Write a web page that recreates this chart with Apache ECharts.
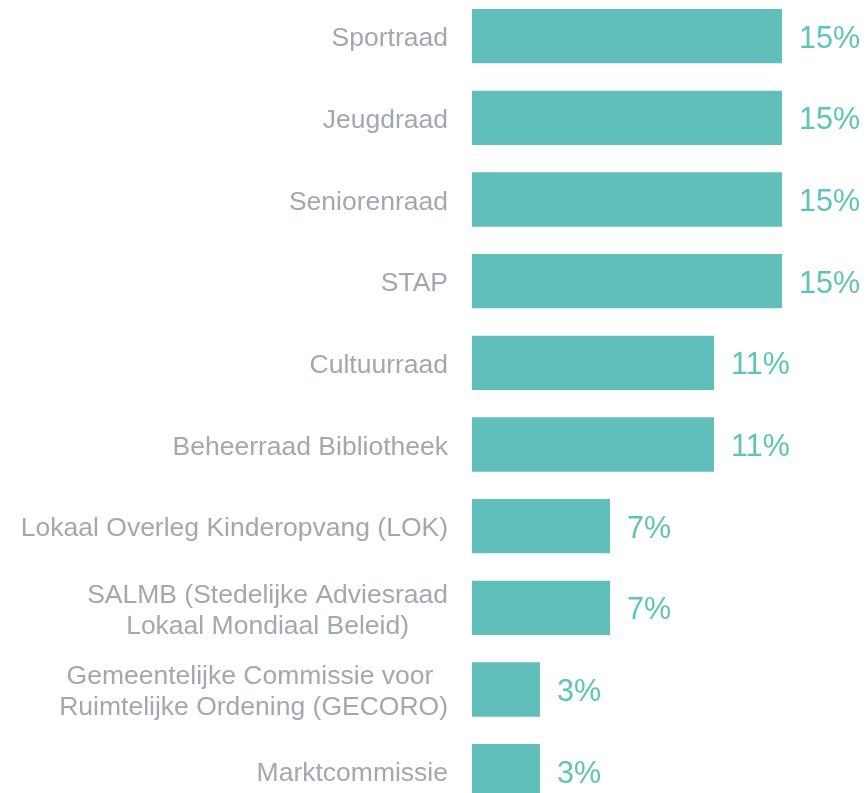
<!DOCTYPE html>
<html>
<head>
<meta charset="utf-8">
<script src="https://cdn.jsdelivr.net/npm/echarts@6/dist/echarts.min.js"></script>
<style>
  html, body { margin: 0; padding: 0; background: #fff; overflow: hidden; }
  #bars { width: 868px; height: 820px; margin-top: -5px; }
</style>
</head>
<body>
<div id="bars"></div>
<script>
var categories = [
    'Sportraad',
    'Jeugdraad',
    'Seniorenraad',
    'STAP',
    'Cultuurraad',
    'Beheerraad Bibliotheek',
    'Lokaal Overleg Kinderopvang (LOK)',
    'SALMB (Stedelijke Adviesraad\nLokaal Mondiaal Beleid)',
    'Gemeentelijke Commissie voor \nRuimtelijke Ordening (GECORO)',
    'Marktcommissie'
];
var shares = [14.6, 14.6, 14.6, 14.6, 11.4, 11.4, 6.5, 6.5, 3.2, 3.2];

// the chart div starts 5px above the window so the first bar sits at y=9
var barChart = echarts.init(document.getElementById('bars'), null, {renderer: 'canvas'});

barChart.setOption({
    animation: false,
    grid: {left: 472, top: 0.3, width: 339.7, height: 816.7},
    xAxis: {
        type: 'value', min: 0, max: 16,
        show: false
    },
    yAxis: {
        type: 'category',
        data: categories,
        inverse: true,
        axisLine: {show: false},
        axisTick: {show: false},
        axisLabel: {
            margin: 24,
            align: 'right',
            padding: [6, 0, 0, 0],
            formatter: function (v) {
                return v.split('\n').map(function (l) { return '{c|' + l + '}'; }).join('\n');
            },
            rich: {
                c: {
                    align: 'center',
                    color: '#a0a8b0',
                    fontSize: 26.5,
                    lineHeight: 31,
                    fontFamily: 'Liberation Sans, Arial, sans-serif'
                }
            }
        }
    },
    series: [{
        type: 'bar',
        data: shares,
        barWidth: 54.3,
        itemStyle: {color: '#60bfba'},
        label: {
            show: true,
            position: 'right',
            distance: 17,
            offset: [0, 3],
            color: '#5ec3b8',
            fontSize: 30.5,
            fontFamily: 'Liberation Sans, Arial, sans-serif',
            formatter: function (p) { return Math.round(p.value) + '%'; }
        }
    }]
});
</script>
</body>
</html>
